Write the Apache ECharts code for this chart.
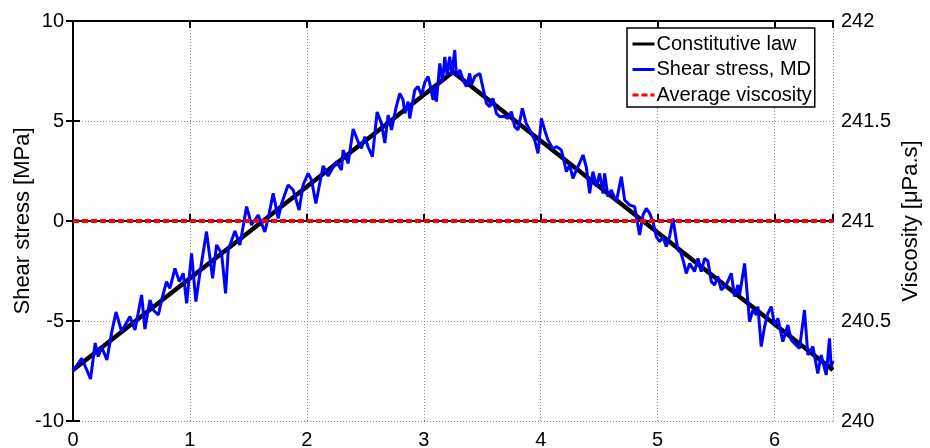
<!DOCTYPE html>
<html>
<head>
<meta charset="utf-8">
<script src="https://cdn.jsdelivr.net/npm/echarts@6/dist/echarts.min.js"></script>
<style>
  html, body { margin: 0; padding: 0; background: #fff; }
  #chart { width: 930px; height: 448px; }
</style>
</head>
<body>
<div id="chart"></div>
<script>
// ---- Data ----
const xTicks = [0, 1, 2, 3, 4, 5, 6];
const leftTicks = [-10, -5, 0, 5, 10];
const rightTicks = [240, 240.5, 241, 241.5, 242];

// Constitutive law (black)
const lawX = [0, 3.25, 6.5];
const lawY = [-7.45, 7.45, -7.45];

// Shear stress, MD (blue)
const shearX = [
  0.0, 0.074, 0.10, 0.15, 0.19, 0.216, 0.245, 0.29, 0.33, 0.368, 0.416, 0.487, 0.53, 0.587, 0.615, 0.658, 0.686, 0.73, 0.758, 0.80,
  0.829, 0.872, 0.909, 0.943, 0.972, 1.014, 1.051, 1.085, 1.142, 1.194, 1.228, 1.271, 1.305, 1.328, 1.385, 1.427, 1.485, 1.527, 1.584, 1.641,
  1.678, 1.712, 1.755, 1.784, 1.84, 1.883, 1.934, 1.968, 2.011, 2.04, 2.077, 2.14, 2.182, 2.254, 2.296, 2.31, 2.353, 2.396, 2.439, 2.467,
  2.496, 2.524, 2.561, 2.601, 2.638, 2.667, 2.695, 2.724, 2.76, 2.795, 2.823, 2.838, 2.866, 2.88, 2.923, 2.951, 2.98, 3.01, 3.037, 3.051,
  3.08, 3.095, 3.108, 3.137, 3.16, 3.18, 3.2, 3.222, 3.24, 3.265, 3.279, 3.308, 3.336, 3.365, 3.393, 3.407, 3.436, 3.479, 3.507, 3.536,
  3.564, 3.592, 3.621, 3.65, 3.692, 3.721, 3.749, 3.778, 3.806, 3.843, 3.875, 3.906, 3.949, 3.977, 4.006, 4.034, 4.062, 4.105, 4.134, 4.177,
  4.22, 4.248, 4.276, 4.305, 4.333, 4.362, 4.39, 4.419, 4.447, 4.476, 4.504, 4.533, 4.547, 4.575, 4.604, 4.647, 4.69, 4.718, 4.761, 4.803,
  4.846, 4.875, 4.903, 4.932, 4.96, 4.989, 5.017, 5.045, 5.074, 5.103, 5.131, 5.173, 5.2, 5.22, 5.245, 5.274, 5.316, 5.345, 5.373, 5.402,
  5.43, 5.459, 5.487, 5.516, 5.544, 5.587, 5.63, 5.658, 5.687, 5.701, 5.744, 5.766, 5.786, 5.815, 5.844, 5.858, 5.886, 5.915, 5.943, 5.972,
  6.0, 6.029, 6.071, 6.114, 6.143, 6.171, 6.214, 6.256, 6.285, 6.328, 6.37, 6.399, 6.442, 6.47, 6.484, 6.5
];
const shearY = [
  -7.5, -6.87, -7.2, -7.9, -6.1, -6.78, -6.3, -6.95, -5.6, -4.55, -5.53, -4.78, -5.45, -3.7, -5.4, -3.95, -4.45, -4.7, -3.95, -3.03,
  -3.37, -2.37, -3.03, -2.62, -4.12, -1.62, -4.03, -2.62, -0.53, -2.87, -1.2, -1.62, -3.62, -1.45, -0.5, -1.2, 0.72, -0.2, 0.3, -0.55,
  0.38, 1.38, 0.13, 0.88, 1.8, 1.55, 0.55, 1.8, 2.38, 2.05, 0.88, 2.76, 2.25, 2.97, 2.55, 3.55, 2.88, 4.6, 3.95, 3.63,
  4.22, 3.7, 3.22, 5.45, 4.88, 3.9, 5.3, 4.55, 5.6, 6.38, 6.05, 5.38, 5.97, 5.13, 6.55, 6.72, 6.3, 6.95, 7.22, 6.88,
  6.05, 6.7, 5.97, 7.88, 6.95, 8.2, 7.3, 8.22, 7.3, 8.55, 7.22, 7.55, 7.05, 6.72, 7.38, 6.8, 7.22, 7.38, 6.63, 5.88,
  5.72, 6.13, 5.38, 5.22, 5.22, 5.13, 5.47, 4.72, 4.55, 5.63, 4.9, 4.55, 4.05, 3.38, 5.13, 4.55, 4.05, 3.6, 3.72, 3.55,
  2.47, 2.8, 2.13, 2.55, 2.9, 3.3, 2.7, 1.38, 2.47, 1.72, 2.38, 1.38, 2.38, 1.22, 1.55, 0.97, 2.22, 1.05, 0.8, 0.72,
  -0.7, 0.3, 0.63, 0.38, -0.03, -0.78, -1.03, -0.8, -1.28, -0.78, 0.12, -1.45, -1.6, -2.0, -2.62, -2.12, -2.53, -1.87, -2.53, -1.87,
  -2.0, -3.03, -3.2, -2.78, -3.45, -3.2, -2.62, -3.78, -3.2, -3.7, -2.12, -3.62, -5.03, -4.45, -4.7, -4.28, -6.28, -5.28, -4.62, -4.28,
  -5.2, -4.87, -6.03, -5.2, -5.95, -6.12, -6.37, -4.45, -6.7, -6.28, -7.62, -6.7, -7.7, -5.87, -7.28, -7.0
];

// Average viscosity (red dashed, right axis)
const viscX = [0, 6.5];
const viscY = [241, 241];

const zip = (xs, ys) => xs.map((x, i) => [x, ys[i]]);

const FONT = 'Liberation Sans, Arial, Helvetica, sans-serif';
const chart = echarts.init(document.getElementById('chart'), null, { renderer: 'canvas' });

const axisLineStyle = { lineStyle: { color: '#000', width: 2 } };
const tickStyle = { show: true, inside: true, length: 7, lineStyle: { color: '#000', width: 2 } };
const gridLine = { show: true, lineStyle: { color: '#8a8a8a', width: 1, type: [1, 2] } };

chart.setOption({
  animation: false,
  backgroundColor: '#fff',
  grid: { left: 73, right: 97, top: 21, bottom: 27, containLabel: false, outerBoundsMode: 'none' },
  legend: {
    left: 627, top: 28, orient: 'vertical',
    backgroundColor: '#fff', borderColor: '#000', borderWidth: 1.5, borderRadius: 0,
    padding: [6, 3, 2, 4], itemGap: 5.5, itemWidth: 22, itemHeight: 20,
    itemStyle: { opacity: 0 },
    lineStyle: { width: 3 },
    textStyle: { fontFamily: FONT, fontSize: 20, color: '#000', padding: [0, 0, 0, -3] },
    data: ['Constitutive law', 'Shear stress, MD', 'Average viscosity']
  },
  xAxis: [{
    type: 'value', min: 0, max: 6.5, interval: 1, position: 'bottom',
    axisLine: axisLineStyle, axisTick: tickStyle,
    axisLabel: { color: '#000', fontFamily: FONT, fontSize: 20, margin: 9,
      formatter: v => xTicks.includes(v) ? String(v) : '' },
    splitLine: gridLine
  }, {
    type: 'value', min: 0, max: 6.5, interval: 1, position: 'top',
    axisLine: axisLineStyle, axisTick: tickStyle, axisLabel: { show: false }, splitLine: { show: false }
  }],
  yAxis: [{
    type: 'value', min: -10, max: 10, interval: 5, position: 'left',
    name: 'Shear stress [MPa]', nameLocation: 'middle', nameGap: 39, nameMoveOverlap: false,
    nameTextStyle: { fontFamily: FONT, fontSize: 22, color: '#000' },
    axisLine: { show: true, lineStyle: { color: '#000', width: 2 } }, axisTick: tickStyle,
    axisLabel: { color: '#000', fontFamily: FONT, fontSize: 20, margin: 9,
      formatter: v => leftTicks.includes(v) ? String(v) : '' },
    splitLine: gridLine
  }, {
    type: 'value', min: 240, max: 242, interval: 0.5, position: 'right',
    name: 'Viscosity [μPa.s]', nameLocation: 'middle', nameGap: 67, nameMoveOverlap: false,
    nameTextStyle: { fontFamily: FONT, fontSize: 22, color: '#000' },
    axisLine: { show: true, lineStyle: { color: '#000', width: 2 } }, axisTick: tickStyle,
    axisLabel: { color: '#000', fontFamily: FONT, fontSize: 20, margin: 8,
      formatter: v => rightTicks.includes(v) ? String(v) : '' },
    splitLine: { show: false }
  }],
  series: [{
    name: 'Constitutive law', type: 'line', xAxisIndex: 0, yAxisIndex: 0,
    data: zip(lawX, lawY), symbol: 'none', z: 2,
    lineStyle: { color: '#000', width: 4.5 }, itemStyle: { color: '#000' }
  }, {
    name: 'Shear stress, MD', type: 'line', xAxisIndex: 0, yAxisIndex: 0,
    data: zip(shearX, shearY), symbol: 'none', z: 3,
    lineStyle: { color: '#0000ff', width: 3 }, itemStyle: { color: '#0000ff' }
  }, {
    name: 'Average viscosity', type: 'line', xAxisIndex: 0, yAxisIndex: 1,
    data: zip(viscX, viscY), symbol: 'none', z: 4,
    lineStyle: { color: '#ff0000', width: 4, type: [6, 3] }, itemStyle: { color: '#ff0000' }
  }]
});
</script>
</body>
</html>
